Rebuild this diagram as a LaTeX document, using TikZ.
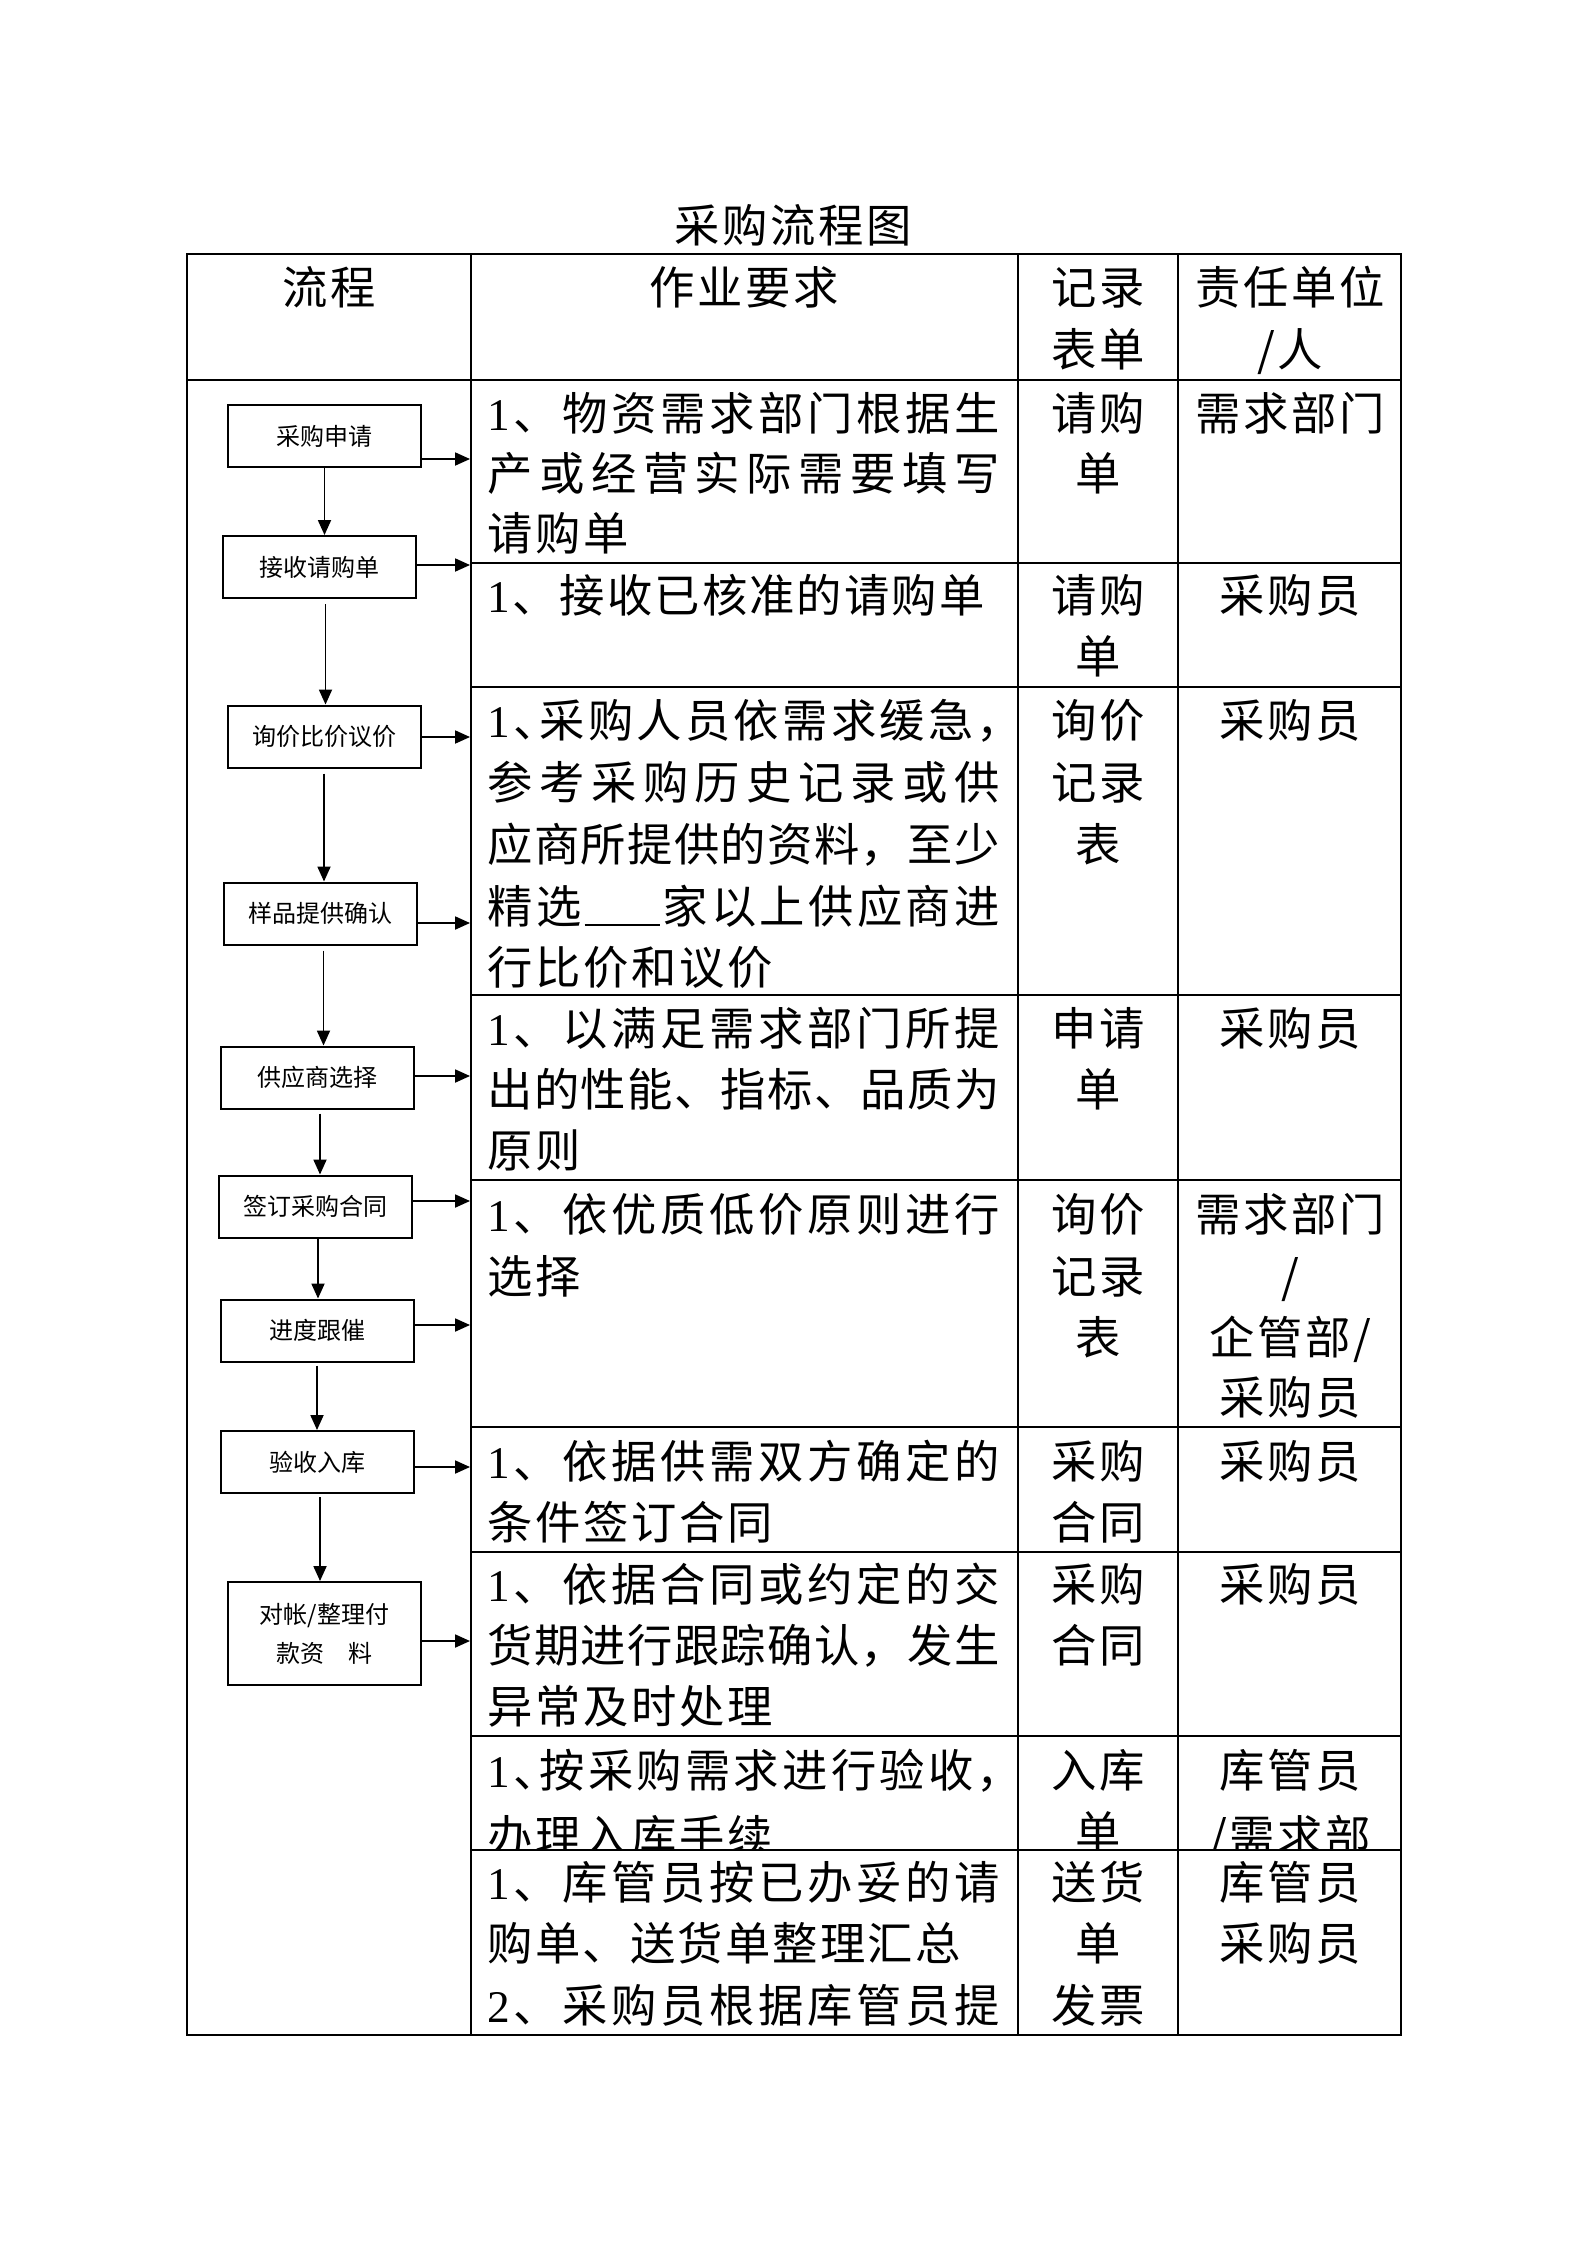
\documentclass[tikz,border=0pt]{standalone}
\usepackage{fontspec}
\setmainfont{Liberation Serif}
\newfontfamily\cjk{Noto Sans CJK SC}
\newfontfamily\lat{Liberation Serif}
\usetikzlibrary{arrows.meta}
\newlength\px
\setlength\px{0.375pt}
\makeatletter
\newcommand\jline[2]{\makebox[#2\px][s]{\let\jl@sep\relax\@tfor\jl@c:=#1\do{\jl@sep\jl@c\def\jl@sep{\hfill}}}}
\newcommand\nline[1]{\let\jl@sep\relax\@tfor\jl@c:=#1\do{\jl@sep\jl@c\def\jl@sep{\kern2.7\px}}}
\makeatother
\newcommand\one{{\lat 1}}
\newcommand\two{{\lat 2}}
\newcommand\dun{\makebox[0.5em][l]{、}}
\newcommand\dou{\makebox[0.5em][l]{，}}
\newcommand\blank{\rule[-3\px]{75\px}{1.6\px}}
\tikzset{
  tx/.style={font=\cjk\fontsize{17}{20}\selectfont, inner sep=0pt, text height=38\px, text depth=4\px},
  ln/.style={tx, anchor=west},
  ct/.style={tx, anchor=center},
  box/.style={draw, line width=0.75pt, inner sep=0pt, minimum width=193\px, minimum height=62\px,
    font=\cjk\fontsize{9}{14.6}\selectfont, align=center},
  arr/.style={line width=0.6pt, -{Triangle[length=5.6pt,width=4.9pt]}},
  grid/.style={line width=0.5pt},
}
\begin{document}
\begin{tikzpicture}[x=0.375pt, y=-0.375pt]
\useasboundingbox (0,0) rectangle (1587,2245);
% title
\node[ct] (title) at (793,225) {\nline{采购流程图}};
% table
\draw[grid] (187,254) rectangle (1401,2035);
\draw[grid] (471,254) -- (471,2035);
\draw[grid] (1018,254) -- (1018,2035);
\draw[grid] (1178,254) -- (1178,2035);
\draw[grid] (187,380) -- (1401,380);
\foreach \yy in {563,687,995,1180,1427,1552,1736,1850}
  \draw[grid] (471,\yy) -- (1401,\yy);
% header
\node[ct] (h1) at (329,287) {\nline{流程}};
\node[ct] (h2) at (744,287) {\nline{作业要求}};
\node[ct] (h3a) at (1098,287) {\nline{记录}};
\node[ct] (h3b) at (1098,349) {\nline{表单}};
\node[ct] (h4a) at (1290,287) {\nline{责任单位}};
\node[ct] (h4b) at (1290,349) {\nline{/人}};
% flow boxes
\node[box] (b1) at (324.5,436) {采购申请};
\node[box] (b2) at (319.5,567) {接收请购单};
\node[box] (b3) at (324,736.5) {询价比价议价};
\node[box] (b4) at (320.5,913.5) {样品提供确认};
\node[box] (b5) at (317,1077.5) {供应商选择};
\node[box] (b6) at (315.5,1206.5) {签订采购合同};
\node[box] (b7) at (317,1330.5) {进度跟催};
\node[box] (b8) at (317,1462) {验收入库};
\node[box, minimum height=103\px] (b9) at (324.5,1633.5) {对帐/整理付\\款资\hspace{1em}料};
% arrow targets on the column line
\coordinate (t1) at (470,459);
\coordinate (t2) at (470,565);
\coordinate (t3) at (470,737);
\coordinate (t4) at (470,923);
\coordinate (t5) at (470,1076);
\coordinate (t6) at (470,1201);
\coordinate (t7) at (470,1325);
\coordinate (t8) at (470,1467);
\coordinate (t9) at (470,1641);
\foreach \i in {1,...,9}
  \draw[arr] (b\i.east |- t\i) -- (t\i);
% vertical arrows
\draw[arr] (b1.south) -- (b1.south |- b2.north);
\draw[arr] ([xshift=6\px,yshift=-5\px]b2.south) -- ([xshift=6\px]b2.south |- b3.north);
\draw[arr] ([yshift=-5\px]b3.south) -- (b3.south |- b4.north);
\draw[arr] ([xshift=3\px,yshift=-5\px]b4.south) -- ([xshift=3\px]b4.south |- b5.north);
\draw[arr] ([xshift=3\px,yshift=-4\px]b5.south) -- ([xshift=3\px]b5.south |- b6.north);
\draw[arr] ([xshift=2.5\px]b6.south) -- ([xshift=2.5\px]b6.south |- b7.north);
\draw[arr] ([yshift=-3\px]b7.south) -- (b7.south |- b8.north);
\draw[arr] ([xshift=3\px,yshift=-3\px]b8.south) -- ([xshift=3\px]b8.south |- b9.north);
% row 1
\node[ln] (r1a) at (487,413) {\jline{\one 、物资需求部门根据生}{512}};
\node[ln] (r1b) at (487,473) {\jline{产或经营实际需要填写}{512}};
\node[ln] (r1c) at (487,533) {\nline{请购单}};
\node[ct] (r1d) at (1098,413) {\nline{请购}};
\node[ct] (r1e) at (1098,473) {\nline{单}};
\node[ct] (r1f) at (1290,413) {\nline{需求部门}};
% row 2
\node[ln] (r2a) at (487,595) {\jline{\one 、接收已核准的请购单}{497}};
\node[ct] (r2d) at (1098,595) {\nline{请购}};
\node[ct] (r2e) at (1098,656) {\nline{单}};
\node[ct] (r2f) at (1290,595) {\nline{采购员}};
% row 3
\node[ln] (r3a) at (487,720) {\jline{\one \dun 采购人员依需求缓急\dou}{512}};
\node[ln] (r3b) at (487,782) {\jline{参考采购历史记录或供}{512}};
\node[ln] (r3c) at (487,844) {\jline{应商所提供的资料，至少}{512}};
\node[ln] (r3d) at (487,906) {\jline{精选\blank 家以上供应商进}{512}};
\node[ln] (r3e) at (487,967) {\nline{行比价和议价}};
\node[ct] (r3f) at (1098,720) {\nline{询价}};
\node[ct] (r3g) at (1098,782) {\nline{记录}};
\node[ct] (r3h) at (1098,844) {\nline{表}};
\node[ct] (r3i) at (1290,720) {\nline{采购员}};
% row 4
\node[ln] (r4a) at (487,1028) {\jline{\one 、以满足需求部门所提}{512}};
\node[ln] (r4b) at (487,1089) {\jline{出的性能、指标、品质为}{512}};
\node[ln] (r4c) at (487,1150) {\nline{原则}};
\node[ct] (r4d) at (1098,1028) {\nline{申请}};
\node[ct] (r4e) at (1098,1089) {\nline{单}};
\node[ct] (r4f) at (1290,1028) {\nline{采购员}};
% row 5
\node[ln] (r5a) at (487,1214) {\jline{\one 、依优质低价原则进行}{512}};
\node[ln] (r5b) at (487,1276) {\nline{选择}};
\node[ct] (r5c) at (1098,1214) {\nline{询价}};
\node[ct] (r5d) at (1098,1276) {\nline{记录}};
\node[ct] (r5e) at (1098,1337) {\nline{表}};
\node[ct] (r5f) at (1290,1214) {\nline{需求部门}};
\node[ct] (r5g) at (1290,1276) {/};
\node[ct] (r5h) at (1290,1337) {\nline{企管部/}};
\node[ct] (r5i) at (1290,1397) {\nline{采购员}};
% row 6
\node[ln] (r6a) at (487,1461) {\jline{\one 、依据供需双方确定的}{512}};
\node[ln] (r6b) at (487,1522) {\nline{条件签订合同}};
\node[ct] (r6c) at (1098,1461) {\nline{采购}};
\node[ct] (r6d) at (1098,1522) {\nline{合同}};
\node[ct] (r6e) at (1290,1461) {\nline{采购员}};
% row 7
\node[ln] (r7a) at (487,1584) {\jline{\one 、依据合同或约定的交}{512}};
\node[ln] (r7b) at (487,1645) {\jline{货期进行跟踪确认，发生}{512}};
\node[ln] (r7c) at (487,1706) {\nline{异常及时处理}};
\node[ct] (r7d) at (1098,1584) {\nline{采购}};
\node[ct] (r7e) at (1098,1645) {\nline{合同}};
\node[ct] (r7f) at (1290,1584) {\nline{采购员}};
% row 8 (clipped)
\begin{scope}
\clip (471,1736) rectangle (1401,1850);
\node[ln] (r8a) at (487,1770) {\jline{\one \dun 按采购需求进行验收\dou}{512}};
\node[ln] (r8b) at (487,1836) {\nline{办理入库手续}};
\node[ct] (r8c) at (1098,1770) {\nline{入库}};
\node[ct] (r8d) at (1098,1832) {\nline{单}};
\node[ct] (r8e) at (1290,1770) {\nline{库管员}};
\node[ct] (r8f) at (1290,1836) {\nline{/需求部}};
\end{scope}
% row 9
\node[ln] (r9a) at (487,1882) {\jline{\one 、库管员按已办妥的请}{512}};
\node[ln] (r9b) at (487,1943) {\jline{购单、送货单整理汇总}{473}};
\node[ln] (r9c) at (487,2005) {\jline{\two 、采购员根据库管员提}{512}};
\node[ct] (r9d) at (1098,1882) {\nline{送货}};
\node[ct] (r9e) at (1098,1943) {\nline{单}};
\node[ct] (r9f) at (1098,2005) {\nline{发票}};
\node[ct] (r9g) at (1290,1882) {\nline{库管员}};
\node[ct] (r9h) at (1290,1943) {\nline{采购员}};
\end{tikzpicture}
\end{document}
